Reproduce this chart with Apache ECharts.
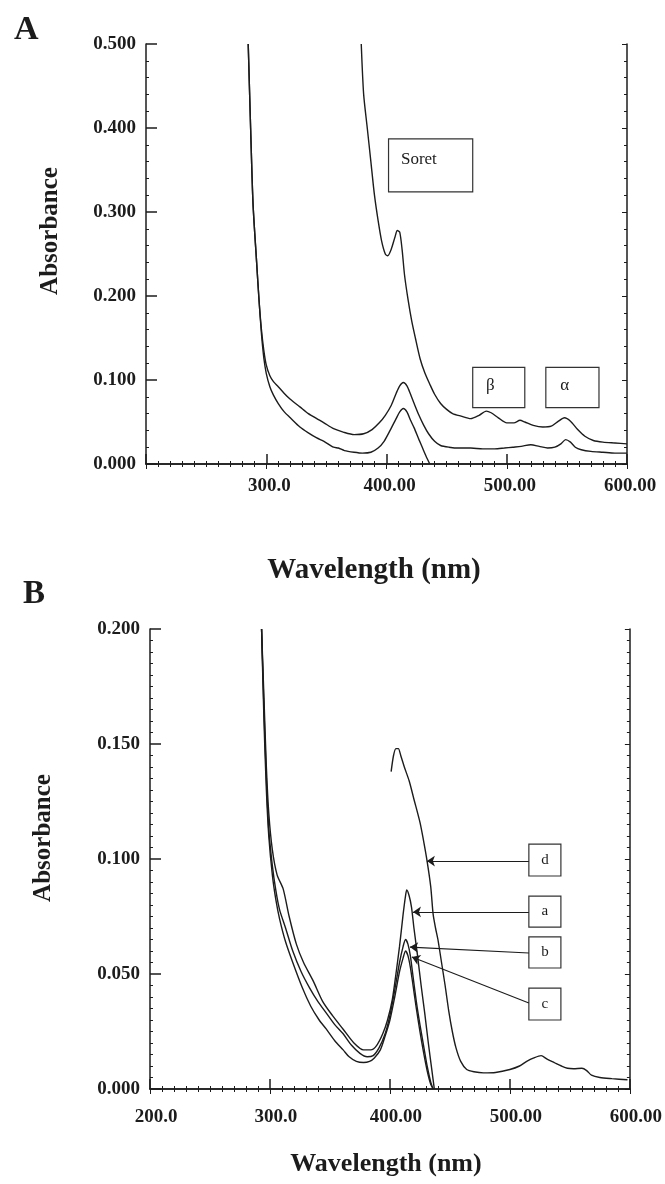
<!DOCTYPE html>
<html>
<head>
<meta charset="utf-8">
<script src="https://cdn.jsdelivr.net/npm/echarts@6/dist/echarts.min.js"></script>
<style>
  html, body { margin: 0; padding: 0; background: #fff; }
  #spectra { width: 665px; height: 1184px; }
</style>
</head>
<body>
<div id="spectra"></div>
<script>
// ---- data (wavelength nm, absorbance) ----
// panel A
const xTicksA = [200, 300, 400, 500, 600];
const xLabelsA = ["", "300.0", "400.00", "500.00", "600.00"];
const yLabelsA = ["0.000", "0.100", "0.200", "0.300", "0.400", "0.500"];
const curveA1 = [
  [379, 0.5], [381, 0.44], [384, 0.4], [387, 0.36], [390, 0.32], [393, 0.29], [396, 0.265],
  [399, 0.25], [401, 0.248], [404, 0.256], [407, 0.27], [409, 0.278], [411, 0.276],
  [413, 0.255], [415, 0.225], [418, 0.195], [421, 0.17], [424, 0.15], [428, 0.125],
  [432, 0.108], [436, 0.095], [440, 0.083], [445, 0.072], [450, 0.065], [455, 0.06],
  [462, 0.057], [470, 0.054], [477, 0.058], [483, 0.063], [487, 0.061], [493, 0.055],
  [500, 0.049], [506, 0.049], [511, 0.052], [515, 0.05], [522, 0.046], [530, 0.044],
  [537, 0.045], [543, 0.051], [548, 0.055], [553, 0.051], [559, 0.041], [565, 0.033],
  [572, 0.028], [580, 0.026], [590, 0.025], [600, 0.024]
];
const curveA2 = [
  [285, 0.5], [287, 0.4], [289, 0.31], [292, 0.24], [294, 0.195], [296, 0.16], [298, 0.135],
  [300, 0.118], [303, 0.105], [306, 0.098], [310, 0.092], [315, 0.084], [320, 0.077],
  [328, 0.068], [335, 0.06], [342, 0.054], [348, 0.049], [356, 0.042], [364, 0.038],
  [373, 0.035], [381, 0.036], [388, 0.041], [394, 0.049], [399, 0.058], [404, 0.07],
  [408, 0.084], [411, 0.093], [414, 0.097], [417, 0.093], [420, 0.083], [423, 0.072],
  [427, 0.058], [431, 0.046], [435, 0.036], [440, 0.027], [445, 0.022], [452, 0.02],
  [460, 0.019], [470, 0.019], [480, 0.018], [490, 0.018], [498, 0.019], [505, 0.02],
  [512, 0.021], [520, 0.023], [527, 0.021], [534, 0.019], [540, 0.02], [545, 0.024],
  [549, 0.029], [553, 0.026], [557, 0.02], [562, 0.017], [570, 0.015], [580, 0.014],
  [590, 0.013], [600, 0.013]
];
const curveA3 = [
  [285, 0.5], [287, 0.4], [289, 0.31], [292, 0.24], [294, 0.195], [296, 0.155], [298, 0.126],
  [300, 0.108], [303, 0.092], [306, 0.082], [310, 0.072], [315, 0.062], [320, 0.055],
  [328, 0.044], [335, 0.037], [342, 0.031], [348, 0.027], [356, 0.02], [360, 0.019],
  [365, 0.016], [373, 0.014], [380, 0.013], [387, 0.014], [393, 0.019], [398, 0.027],
  [403, 0.04], [408, 0.054], [411, 0.062], [414, 0.066], [417, 0.062], [420, 0.052],
  [423, 0.043], [427, 0.029], [430, 0.019], [433, 0.009], [436, 0.0]
];

// panel B
const xTicksB = [200, 300, 400, 500, 600];
const xLabelsB = ["200.0", "300.0", "400.00", "500.00", "600.00"];
const yLabelsB = ["0.000", "0.050", "0.100", "0.150", "0.200"];
const curveBa = [
  [293, 0.2], [295, 0.17], [297, 0.14], [299, 0.12], [302, 0.104], [306, 0.093], [311, 0.087],
  [316, 0.075], [322, 0.063], [328, 0.055], [336, 0.047], [344, 0.038], [352, 0.032],
  [361, 0.026], [370, 0.02], [378, 0.017], [384, 0.017], [389, 0.019], [394, 0.024],
  [398, 0.03], [402, 0.039], [405, 0.05], [408, 0.062], [411, 0.076], [413, 0.084],
  [414, 0.0865], [416, 0.084], [418, 0.079], [420, 0.07], [423, 0.058], [426, 0.045],
  [429, 0.033], [432, 0.02], [435, 0.008], [437, 0.0]
];
const curveBb = [
  [293, 0.2], [295, 0.165], [297, 0.135], [299, 0.113], [302, 0.097], [305, 0.086],
  [308, 0.078], [313, 0.07], [319, 0.06], [326, 0.051], [333, 0.044], [340, 0.038],
  [347, 0.033], [354, 0.028], [361, 0.024], [368, 0.019], [375, 0.0155], [381, 0.014],
  [386, 0.0145], [391, 0.018], [396, 0.024], [400, 0.032], [404, 0.043], [408, 0.055],
  [411, 0.062], [413, 0.065], [415, 0.063], [417, 0.058], [419, 0.05], [422, 0.038],
  [425, 0.028], [428, 0.019], [431, 0.01], [434, 0.003], [436, 0.0]
];
const curveBc = [
  [293, 0.2], [295, 0.16], [297, 0.13], [299, 0.11], [302, 0.093], [305, 0.082], [308, 0.074],
  [313, 0.064], [319, 0.055], [327, 0.044], [334, 0.036], [341, 0.03], [347, 0.026],
  [354, 0.021], [361, 0.017], [366, 0.014], [372, 0.012], [378, 0.0115], [383, 0.012],
  [387, 0.0135], [392, 0.017], [396, 0.023], [400, 0.03], [404, 0.04], [408, 0.051],
  [411, 0.057], [413, 0.06], [415, 0.058], [417, 0.053], [419, 0.046], [422, 0.035],
  [425, 0.025], [428, 0.016], [431, 0.008], [434, 0.002], [436, 0.0]
];
const curveBd = [
  [401, 0.138], [403, 0.145], [405, 0.148], [407, 0.148], [409, 0.145], [412, 0.14],
  [416, 0.134], [420, 0.126], [425, 0.116], [428, 0.108], [431, 0.099], [434, 0.088],
  [436, 0.076], [438, 0.07], [440, 0.065], [443, 0.055], [446, 0.045], [449, 0.034],
  [452, 0.025], [455, 0.018], [459, 0.012], [464, 0.0085], [470, 0.0075], [478, 0.007],
  [488, 0.0072], [500, 0.0085], [508, 0.01], [514, 0.012], [520, 0.0135], [526, 0.0145],
  [531, 0.013], [537, 0.0115], [543, 0.01], [548, 0.009], [553, 0.0088], [560, 0.009],
  [564, 0.008], [568, 0.006], [575, 0.005], [585, 0.0045], [598, 0.004]
];

const ink = "#1c1c1c";
const serif = "Liberation Serif";

function bottomAxis(grid, labels, ticks, pad) {
  return {
    type: "value", gridIndex: grid, position: "bottom", min: 200, max: 600, interval: 100,
    axisLine: { lineStyle: { color: ink, width: 1.5 } },
    axisTick: { inside: true, length: 10, lineStyle: { color: ink, width: 1.5 } },
    minorTick: { show: true, splitNumber: 10, length: 3, lineStyle: { color: ink } },
    splitLine: { show: false },
    axisLabel: {
      margin: 13, color: ink, fontFamily: serif, fontWeight: "bold", fontSize: 19,
      padding: pad, showMinLabel: true, showMaxLabel: true,
      formatter: v => labels[ticks.indexOf(v)]
    }
  };
}
function topAxis(grid) {
  return {
    type: "value", gridIndex: grid, position: "top", min: 200, max: 600, interval: 100,
    axisLine: { lineStyle: { color: ink, width: 1.5 } },
    axisTick: { inside: true, length: 5, lineStyle: { color: ink } },
    minorTick: { show: true, splitNumber: 10, length: 3, lineStyle: { color: ink } },
    splitLine: { show: false }, axisLabel: { show: false }
  };
}
function leftAxis(grid, max, step, labels, minor) {
  return {
    type: "value", gridIndex: grid, position: "left", min: 0, max: max, interval: step,
    axisLine: { show: true, lineStyle: { color: ink, width: 1.5 } },
    axisTick: { show: true, inside: true, length: 11, lineStyle: { color: ink, width: 1.5 } },
    minorTick: { show: true, splitNumber: minor, length: 3, lineStyle: { color: ink } },
    splitLine: { show: false },
    axisLabel: {
      margin: 10, color: ink, fontFamily: serif, fontWeight: "bold", fontSize: 19,
      formatter: v => labels[Math.round(v / step)]
    }
  };
}
function rightAxis(grid, max, step, minor) {
  return {
    type: "value", gridIndex: grid, position: "right", min: 0, max: max, interval: step,
    axisLine: { show: true, lineStyle: { color: ink, width: 1.5 } },
    axisTick: { show: true, inside: true, length: 5, lineStyle: { color: ink } },
    minorTick: { show: true, splitNumber: minor, length: 3, lineStyle: { color: ink } },
    splitLine: { show: false }, axisLabel: { show: false }
  };
}
function spectrum(name, data, xi, yi, extra) {
  return Object.assign({
    name: name, type: "line", xAxisIndex: xi, yAxisIndex: yi, data: data,
    showSymbol: false, smooth: 0.25, clip: true,
    lineStyle: { color: ink, width: 1.4 }
  }, extra || {});
}
function box(label, x0, y0, x1, y1, lbl) {
  return [
    { name: label, coord: [x0, y0], label: Object.assign({ show: true, formatter: label,
      color: ink, fontFamily: serif, fontSize: 17 }, lbl) },
    { coord: [x1, y1] }
  ];
}
function arrow(x0, y0, x1, y1) {
  return [{ coord: [x0, y0] }, { coord: [x1, y1] }];
}
const boxStyle = { color: "rgba(0,0,0,0)", borderColor: "#333", borderWidth: 1.2 };

const chart = echarts.init(document.getElementById("spectra"));
chart.setOption({
  animation: false,
  backgroundColor: "#fff",
  title: [
    { text: "A", left: 9, top: 8, textStyle: { fontFamily: serif, fontWeight: "bold", fontSize: 34, color: ink } },
    { text: "B", left: 18, top: 573, textStyle: { fontFamily: serif, fontWeight: "bold", fontSize: 33, color: ink } }
  ],
  graphic: [
    { type: "text", x: 51, y: 231, rotation: Math.PI / 2,
      style: { text: "Absorbance", align: "center", verticalAlign: "middle", font: "bold 25px 'Liberation Serif'", fill: ink } },
    { type: "text", x: 44, y: 838, rotation: Math.PI / 2,
      style: { text: "Absorbance", align: "center", verticalAlign: "middle", font: "bold 25px 'Liberation Serif'", fill: ink } },
    { type: "text", x: 374, y: 571,
      style: { text: "Wavelength (nm)", align: "center", verticalAlign: "middle", font: "bold 29px 'Liberation Serif'", fill: ink } },
    { type: "text", x: 386, y: 1164,
      style: { text: "Wavelength (nm)", align: "center", verticalAlign: "middle", font: "bold 26px 'Liberation Serif'", fill: ink } }
  ],
  grid: [
    { left: 146, top: 44, width: 481, height: 420 },
    { left: 150, top: 629, width: 480, height: 460 }
  ],
  xAxis: [
    bottomAxis(0, xLabelsA, xTicksA, [0, 0, 0, 6]),
    topAxis(0),
    bottomAxis(1, xLabelsB, xTicksB, [6, 0, 0, 12]),
    topAxis(1)
  ],
  yAxis: [
    leftAxis(0, 0.5, 0.1, yLabelsA, 5),
    rightAxis(0, 0.5, 0.1, 5),
    leftAxis(1, 0.2, 0.05, yLabelsB, 10),
    rightAxis(1, 0.2, 0.05, 10)
  ],
  series: [
    spectrum("A1", curveA1, 0, 0, {
      markArea: {
        silent: true, itemStyle: boxStyle,
        data: [
          box("Soret", 401.7, 0.387, 471.7, 0.324, { position: "insideTopLeft", offset: [8, 8] }),
          box("β", 471.7, 0.115, 515, 0.067, { position: "insideLeft", offset: [9, -2] }),
          box("α", 532.5, 0.115, 576.7, 0.067, { position: "insideLeft", offset: [10, -2] })
        ]
      }
    }),
    spectrum("A2", curveA2, 0, 0),
    spectrum("A3", curveA3, 0, 0),
    spectrum("a", curveBa, 2, 2, {
      markArea: {
        silent: true, itemStyle: boxStyle,
        data: [
          box("d", 515.8, 0.1065, 542.5, 0.0926, { position: "inside", fontSize: 15 }),
          box("a", 515.8, 0.0839, 542.5, 0.0704, { position: "inside", fontSize: 15 }),
          box("b", 515.8, 0.0661, 542.5, 0.0526, { position: "inside", fontSize: 15 }),
          box("c", 515.8, 0.0439, 542.5, 0.030, { position: "inside", fontSize: 15 })
        ]
      },
      markLine: {
        silent: true, symbol: ["none", "arrow"], symbolSize: 8,
        label: { show: false },
        lineStyle: { color: ink, width: 1.1, type: "solid" },
        data: [
          arrow(515.8, 0.0991, 430.8, 0.0991),
          arrow(515.8, 0.077, 419.2, 0.077),
          arrow(515.8, 0.0591, 416.7, 0.0617),
          arrow(515.8, 0.0374, 418.3, 0.0574)
        ]
      }
    }),
    spectrum("b", curveBb, 2, 2),
    spectrum("c", curveBc, 2, 2),
    spectrum("d", curveBd, 2, 2)
  ]
});
</script>
</body>
</html>
